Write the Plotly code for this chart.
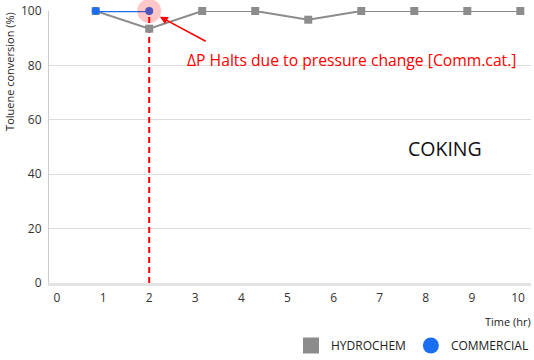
import plotly.graph_objects as go

# Data
hydro_time = [0.84, 2.0, 3.15, 4.3, 5.45, 6.6, 7.75, 8.9, 10.05]
hydro_conv = [100, 93.5, 100, 100, 96.8, 100, 100, 100, 100]
comm_time = [0.84, 2.0]
comm_conv = [100, 100]
x_ticks = [0, 1, 2, 3, 4, 5, 6, 7, 8, 9, 10]
y_ticks = [0, 20, 40, 60, 80, 100]
event_time = 2
annot_text = "ΔP Halts due to pressure change [Comm.cat.]"
label_text = "COKING"

FONT = "Open Sans"
GRAY = "#8c8c8c"
BLUE = "#1a6ef2"
RED = "#ff0000"

fig = go.Figure()

# dashed event line
fig.add_trace(go.Scatter(x=[event_time, event_time], y=[0, 100], mode="lines",
                         line=dict(color=RED, width=2, dash="6px,4px"),
                         showlegend=False, hoverinfo="skip", cliponaxis=False))
fig.add_trace(go.Scatter(x=hydro_time, y=hydro_conv, mode="lines+markers",
                         line=dict(color=GRAY, width=2),
                         marker=dict(symbol="square", size=8, color=GRAY),
                         showlegend=False, cliponaxis=False))
fig.add_trace(go.Scatter(x=comm_time, y=comm_conv, mode="lines+markers",
                         line=dict(color=BLUE, width=2.5),
                         marker=dict(symbol="circle", size=8, color=BLUE),
                         showlegend=False, cliponaxis=False))
# halo
fig.add_trace(go.Scatter(x=[comm_time[-1]], y=[comm_conv[-1]], mode="markers",
                         marker=dict(size=24, color="rgba(255,0,0,0.22)"),
                         showlegend=False, hoverinfo="skip", cliponaxis=False))
# legend entries
fig.add_trace(go.Scatter(x=[None], y=[None], mode="markers", name="HYDROCHEM",
                         marker=dict(symbol="square", size=18, color=GRAY)))
fig.add_trace(go.Scatter(x=[None], y=[None], mode="markers", name="COMMERCIAL",
                         marker=dict(symbol="circle", size=18, color=BLUE)))

# arrow
fig.add_annotation(x=event_time, y=comm_conv[-1], ax=58, ay=31, text="",
                   showarrow=True, arrowhead=2, arrowsize=1, arrowwidth=1.6,
                   arrowcolor=RED, standoff=12)
fig.add_annotation(x=2.78, y=82, text=annot_text, showarrow=False,
                   xanchor="left", yanchor="middle",
                   font=dict(family=FONT, size=15.7, color=RED))
fig.add_annotation(x=8.42, y=49.6, text=label_text, showarrow=False,
                   xanchor="center", yanchor="middle",
                   font=dict(family=FONT, size=19.5, color="#111"))
fig.add_annotation(xref="paper", yref="paper", x=0, xshift=-39, y=0.776,
                   text="Toluene conversion (%)", textangle=-90, showarrow=False,
                   xanchor="center", yanchor="middle",
                   font=dict(family=FONT, size=11, color="#222"))
fig.add_annotation(xref="paper", yref="paper", x=1, y=-0.14, xshift=2,
                   text="Time (hr)", showarrow=False,
                   xanchor="right", yanchor="middle",
                   font=dict(family=FONT, size=11, color="#222"))

fig.update_layout(
    width=534, height=360, autosize=False,
    margin=dict(l=49, r=3, t=11, b=77),
    paper_bgcolor="white", plot_bgcolor="white",
    font=dict(family=FONT, size=12, color="#333"),
    xaxis=dict(range=[-0.1735, 10.282], tickvals=x_ticks, showgrid=False,
               zeroline=False, showline=True, linecolor="#e3e3e3", linewidth=3,
               ticks="", ticklabelstandoff=2, automargin=False,
               tickfont=dict(size=12, color="#333")),
    yaxis=dict(range=[0, 100], tickvals=y_ticks, showgrid=True, gridcolor="#dddddd",
               gridwidth=1, zeroline=False, showline=True, linecolor="#cccccc",
               linewidth=1, ticks="", ticklabelstandoff=4, automargin=False,
               tickfont=dict(size=12, color="#333")),
    legend=dict(orientation="h", xref="container", yref="container",
                xanchor="right", x=1.0, yanchor="bottom", y=0.0,
                font=dict(family=FONT, size=12, color="#222"),
                itemsizing="trace", bgcolor="rgba(0,0,0,0)"),
    showlegend=True,
)

post = ("document.documentElement.style.margin='0';"
        "document.body.style.margin='0';document.body.style.padding='0';"
        "document.body.style.overflow='hidden';")

fig.write_html("out.html", config={"displayModeBar": False},
               post_script=post)
